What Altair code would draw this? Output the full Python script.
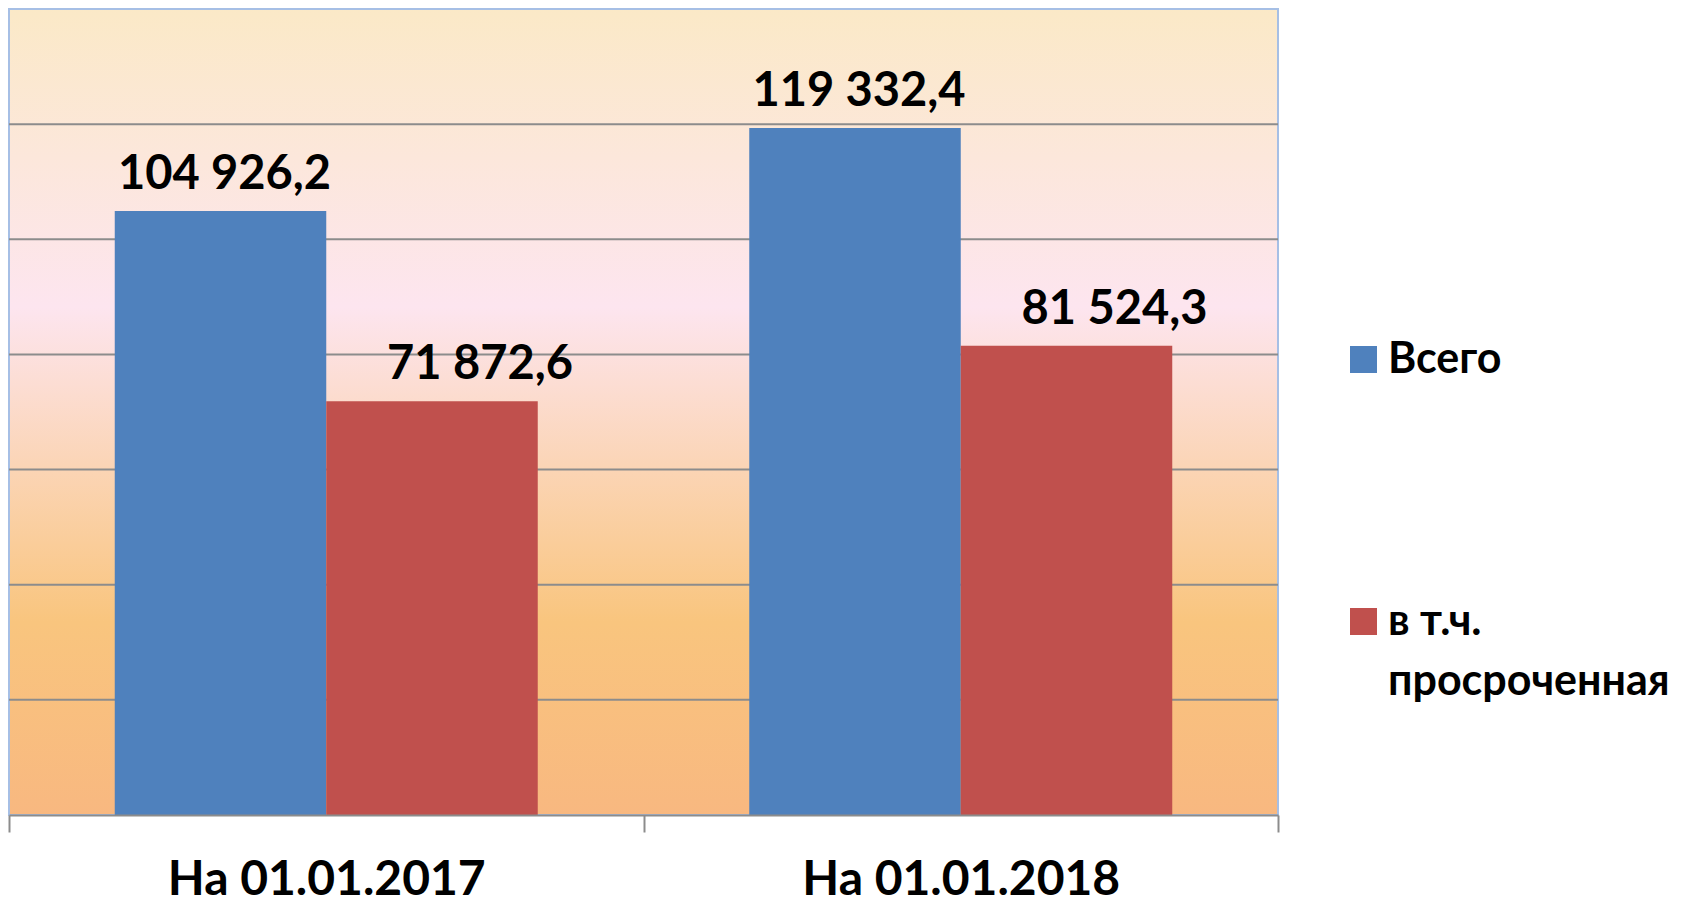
import altair as alt
import pandas as pd

categories = ["На 01.01.2017", "На 01.01.2018"]
series = ["Всего", "в т.ч. просроченная"]
total = [104926.2, 119332.4]
overdue = [71872.6, 81524.3]
grid_values = [20000, 40000, 60000, 80000, 100000, 120000]
y_max = 140000
colors = ["#4F81BD", "#C0504D"]


def fmt(v):
    s = f"{v:,.1f}"
    return s.replace(",", " ").replace(".", ",")


rows = []
for i, c in enumerate(categories):
    rows.append(dict(cat=c, series=series[0], value=total[i], label=fmt(total[i])))
    rows.append(dict(cat=c, series=series[1], value=overdue[i], label=fmt(overdue[i])))
df = pd.DataFrame(rows)
grid_df = pd.DataFrame({"g": grid_values})
bg_df = pd.DataFrame({"lo": [0], "hi": [y_max]})

FONT = "Lato"
W, H = 1269, 806

gradient = {
    "gradient": "linear",
    "x1": 0, "y1": 0, "x2": 0, "y2": 1,
    "stops": [
        {"offset": 0.0, "color": "#FBE9C7"},
        {"offset": 0.37, "color": "#FDE5EF"},
        {"offset": 0.76, "color": "#F9C57E"},
        {"offset": 1.0, "color": "#F8B880"},
    ],
}

y_scale = alt.Scale(domain=[0, y_max], nice=False, zero=True)

bg = alt.Chart(bg_df).mark_rect(color=gradient, stroke="#A6BFE5", strokeWidth=2).encode(
    y=alt.Y("lo:Q", scale=y_scale, axis=None),
    y2="hi:Q",
)

grid = alt.Chart(grid_df).mark_rule(color="#8C8C8C", strokeWidth=2).encode(
    y=alt.Y("g:Q", scale=y_scale, axis=None),
)

x_enc = alt.X(
    "cat:N",
    sort=categories,
    scale=alt.Scale(paddingInner=0, paddingOuter=0),
    axis=alt.Axis(
        title=None, labelAngle=0, labelFont=FONT, labelFontWeight="bold",
        labelFontSize=48, labelColor="black", labelPadding=24, labelLimit=1000,
        tickBand="extent", ticks=True, tickSize=17, tickColor="#8C8C8C",
        tickWidth=2, domainColor="#8C8C8C", domainWidth=2, grid=False, zindex=1,
    ),
)
xo_enc = alt.XOffset("series:N", sort=series, scale=alt.Scale(paddingInner=0, paddingOuter=0.5))

bars = alt.Chart(df).mark_bar().encode(
    x=x_enc,
    xOffset=xo_enc,
    y=alt.Y("value:Q", scale=y_scale, axis=None),
    color=alt.Color(
        "series:N",
        sort=series,
        scale=alt.Scale(domain=series, range=colors),
        legend=alt.Legend(
            title=None, orient="none", legendX=1333, legendY=329, padding=0,
            symbolType="square", symbolSize=729, symbolStrokeWidth=0, symbolOpacity=1,
            labelFont=FONT, labelFontSize=43, labelFontWeight="bold", labelColor="black",
            labelOffset=3, labelLimit=400, rowPadding=218,
            labelExpr="datum.label == 'в т.ч. просроченная' ? ['в т.ч.', 'просроченная'] : datum.label",
        ),
    ),
)

def text_layer(s, dx):
    return alt.Chart(df).transform_filter(alt.datum.series == s).mark_text(
        font=FONT, fontWeight="bold", fontSize=47, color="black",
        baseline="alphabetic", align="center", dy=-22, dx=dx,
    ).encode(
        x=alt.X("cat:N", sort=categories),
        xOffset=alt.XOffset("series:N", sort=series),
        y=alt.Y("value:Q", scale=y_scale),
        text="label:N",
    )

chart = alt.layer(
    bg, grid, bars, text_layer(series[0], 4), text_layer(series[1], 48)
).properties(
    width=W, height=H,
    padding={"left": 1, "top": 1, "right": 413, "bottom": 90},
    autosize=alt.AutoSizeParams(type="none"),
).configure_view(strokeWidth=0).configure(
    style={"guide-label": {"lineHeight": 60}}
)

chart.save("out.html", embed_options={"renderer": "svg", "actions": False})
